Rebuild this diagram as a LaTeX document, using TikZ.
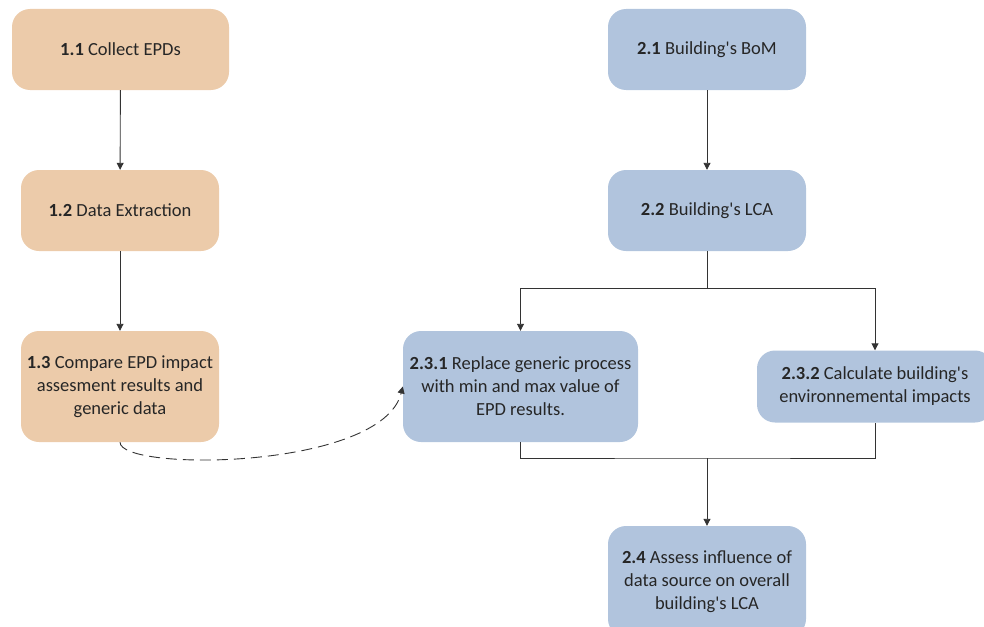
\documentclass[tikz,border=0pt]{standalone}
\usepackage{fontspec}
\setmainfont{Carlito}
\usetikzlibrary{arrows.meta}

\definecolor{tanbox}{RGB}{236,203,170}
\definecolor{bluebox}{RGB}{177,196,221}
\definecolor{linegray}{RGB}{51,51,51}

\newcommand{\apos}{\textquotesingle}

\tikzset{
  stage/.style={rounded corners=18pt, minimum width=198pt, minimum height=81pt,
    align=center, font=\fontsize{18.5}{23}\selectfont, text=black!85},
  collect/.style={stage, fill=tanbox},
  build/.style={stage, fill=bluebox},
  flow/.style={draw=linegray, line width=0.9pt, -{Triangle[length=7pt,width=7pt]}},
  link/.style={draw=linegray, line width=0.9pt}
}

\begin{document}
\begin{tikzpicture}[x=1pt,y=-1pt]
            \useasboundingbox (0,0) rectangle (984,626);

            % left column
            \node[collect, minimum width=217pt] (c11) at (120.5,49.5) {\textbf{1.1} Collect EPDs};
            \node[collect] (c12) at (120,210.5) {\textbf{1.2} Data Extraction};
            \node[collect, minimum height=111pt] (c13) at (120,386.5)
                {\textbf{1.3} Compare EPD impact\\assesment results and\\generic data};

            % right column
            \node[build] (b21) at (707,49.5) {\textbf{2.1} Building\apos s BoM};
            \node[build] (b22) at (707,210.5) {\textbf{2.2} Building\apos s LCA};
            \node[build, minimum width=235pt, minimum height=111pt] (b231) at (520.5,386.5)
                {\textbf{2.3.1} Replace generic process\\with min and max value of\\EPD results.};
            \node[build, minimum width=236pt, minimum height=72pt] (b232) at (875,386.5)
                {\textbf{2.3.2} Calculate building\apos s\\environnemental impacts};
            \node[build, minimum height=111pt] (b24) at (707,581.5)
                {\textbf{2.4} Assess influence of\\data source on overall\\building\apos s LCA};

            \coordinate (split) at (707,288);
            \coordinate (merge) at (707,458);

            \draw[flow] (c11) -- (c12);
            \draw[flow] (c12) -- (c13);
            \draw[flow] (b21) -- (b22);

            \draw[link] (b22) -- (split);
            \draw[flow] (split) -| (b231);
            \draw[flow] (split) -| (b232);

            \draw[link] (b231.south) |- (merge) -| (b232.south);
            \draw[flow] (merge) -- (b24);

            \draw[flow, dash pattern=on 11pt off 6pt]
                (c13.south) .. controls (120,472) and (382,470) .. (b231.west);
        \end{tikzpicture}
\end{document}
